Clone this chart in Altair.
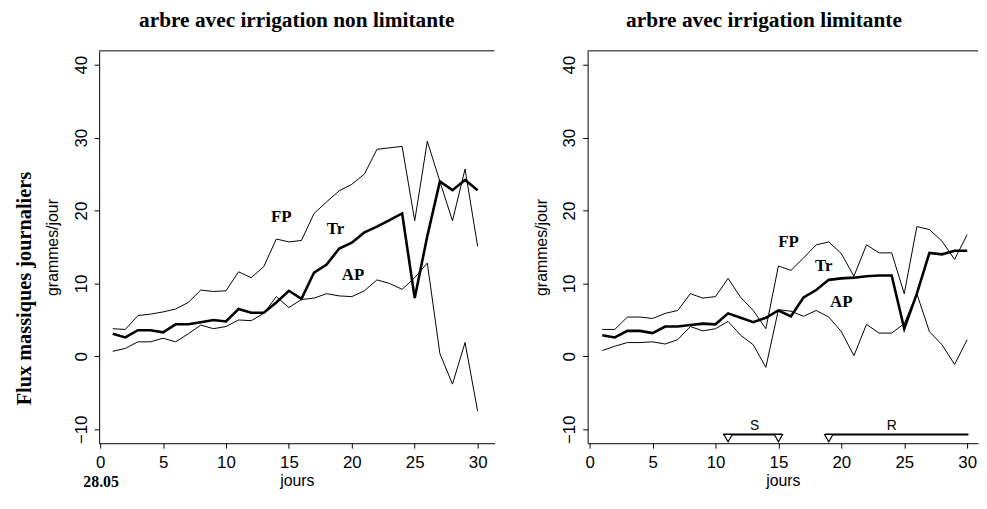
import altair as alt
import pandas as pd

days = list(range(1, 31))

# arbre avec irrigation non limitante
left_fp = [3.8, 3.7, 5.6, 5.8, 6.1, 6.5, 7.4, 9.1, 8.9, 9.0, 11.6, 10.8, 12.3, 16.1, 15.7,
           15.9, 19.6, 21.2, 22.7, 23.6, 25.0, 28.4, 28.6, 28.8, 18.6, 29.5, 24.0, 18.6, 25.7, 15.1]
left_tr = [3.1, 2.6, 3.6, 3.6, 3.3, 4.4, 4.4, 4.7, 5.0, 4.8, 6.5, 6.0, 6.0, 7.4, 9.0,
           7.9, 11.5, 12.6, 14.8, 15.6, 17.0, 17.8, 18.7, 19.6, 8.0, 16.5, 24.0, 22.8, 24.2, 22.8]
left_ap = [0.7, 1.1, 2.0, 2.0, 2.5, 2.0, 3.1, 4.3, 3.8, 4.1, 5.0, 4.9, 5.9, 8.2, 6.7,
           7.8, 8.0, 8.6, 8.3, 8.2, 9.0, 10.5, 10.0, 9.2, 10.8, 12.8, 0.4, -3.8, 1.9, -7.5]

# arbre avec irrigation limitante
right_fp = [3.7, 3.7, 5.4, 5.4, 5.2, 5.9, 6.3, 8.6, 8.0, 8.2, 10.7, 8.1, 6.3, 3.8, 12.4,
            11.8, 13.5, 15.3, 15.7, 14.1, 11.0, 15.3, 14.2, 14.2, 8.6, 17.8, 17.4, 15.8, 13.3, 16.7]
right_tr = [2.9, 2.6, 3.5, 3.5, 3.2, 4.1, 4.1, 4.3, 4.5, 4.4, 5.9, 5.3, 4.7, 5.3, 6.3,
            5.5, 8.1, 9.1, 10.5, 10.7, 10.8, 11.0, 11.1, 11.1, 3.8, 8.6, 14.2, 14.0, 14.5, 14.5]
right_ap = [0.8, 1.4, 1.9, 1.9, 2.0, 1.7, 2.3, 4.1, 3.5, 3.8, 4.8, 2.9, 1.6, -1.5, 6.4,
            6.2, 5.5, 6.3, 5.4, 3.4, 0.1, 4.4, 3.2, 3.2, 4.5, 8.6, 3.4, 1.6, -1.1, 2.3]

label_text = ["FP", "Tr", "AP"]
left_label_day = [14.4, 18.7, 20.1]
left_label_val = [19.1, 17.4, 11.1]
right_label_day = [15.8, 18.6, 20.0]
right_label_val = [15.7, 12.4, 7.4]

# periods S and R (right panel)
period_name = ["S", "R"]
period_start = [10.6, 18.7]
period_end = [15.3, 30.1]
period_level = [-10.7, -10.7]
period_text_day = [13.1, 24.0]
period_text_val = [-9.6, -9.6]
marker_day = [11.0, 15.0, 19.0]
marker_val = [-11.2, -11.2, -11.2]

x_ticks = [0, 5, 10, 15, 20, 25, 30]
y_ticks = [-10, 0, 10, 20, 30, 40]

SERIF = "Liberation Serif"
SANS = "Liberation Sans"
H = 396
Y_SCALE = alt.Scale(domain=[-11.9, 41.9], nice=False, zero=False)


def x_axis():
    return alt.Axis(values=x_ticks, format="d", tickSize=5, labelFontSize=17, labelFont=SANS,
                    labelPadding=7, labelColor="black", tickColor="black", domainColor="black",
                    grid=False, title="jours", titleFont=SANS, titleFontSize=16,
                    titleFontWeight="normal", titleColor="black", titlePadding=2,
                    labelFlush=False)


def y_axis():
    return alt.Axis(values=y_ticks, format="d", tickSize=5, labelFontSize=17, labelFont=SANS,
                    labelAngle=270, labelAlign="center", labelBaseline="bottom", labelPadding=4,
                    labelColor="black", tickColor="black", domainColor="black", grid=False,
                    title="grammes/jour", titleFont=SANS, titleFontSize=16,
                    titleFontWeight="normal", titleColor="black", titlePadding=12,
                    labelFlush=False)


def panel(fp, tr, ap, x_domain, width, title, lab_day, lab_val, left, title_dx):
    xs = alt.Scale(domain=x_domain, nice=False, zero=False)
    thin = pd.DataFrame({"jour": days * 2, "valeur": fp + ap, "serie": ["FP"] * 30 + ["AP"] * 30})
    thick = pd.DataFrame({"jour": days, "valeur": tr})
    labs = pd.DataFrame({"jour": lab_day, "valeur": lab_val, "t": label_text})

    base_thin = alt.Chart(thin).mark_line(color="black", strokeWidth=1).encode(
        x=alt.X("jour:Q", scale=xs, axis=x_axis()),
        y=alt.Y("valeur:Q", scale=Y_SCALE, axis=y_axis()),
        detail="serie:N",
    )
    base_thick = alt.Chart(thick).mark_line(color="black", strokeWidth=2.6).encode(
        x=alt.X("jour:Q", scale=xs),
        y=alt.Y("valeur:Q", scale=Y_SCALE),
    )
    txt = alt.Chart(labs).mark_text(font=SERIF, fontSize=17, fontWeight="bold", color="black").encode(
        x=alt.X("jour:Q", scale=xs),
        y=alt.Y("valeur:Q", scale=Y_SCALE),
        text="t:N",
    )
    top = alt.Chart(pd.DataFrame({"a": [0]})).mark_rule(color="black", strokeWidth=1).encode(
        x=alt.value(0), x2=alt.value(width), y=alt.value(0)
    )
    layers = [top, base_thin, base_thick, txt]
    if left:
        extra = pd.DataFrame({"t": ["Flux massiques journaliers"]})
        layers.append(alt.Chart(extra).mark_text(font=SERIF, fontSize=20.5, fontWeight="bold",
                                                 color="black", angle=270, align="center",
                                                 baseline="middle").encode(
            x=alt.value(-75), y=alt.value(240), text="t:N"))
        date = pd.DataFrame({"t": ["28.05"]})
        layers.append(alt.Chart(date).mark_text(font=SERIF, fontSize=16, fontWeight="bold",
                                                color="black", align="center",
                                                baseline="middle").encode(
            x=alt.value(2), y=alt.value(435), text="t:N"))
    else:
        per = pd.DataFrame({"s": period_start, "e": period_end, "v": period_level})
        layers.append(alt.Chart(per).mark_rule(color="black", strokeWidth=2).encode(
            x=alt.X("s:Q", scale=xs), x2="e:Q", y=alt.Y("v:Q", scale=Y_SCALE)))
        mk = pd.DataFrame({"d": marker_day, "v": marker_val})
        layers.append(alt.Chart(mk).mark_point(shape="triangle-down", filled=True, fill="white",
                                               stroke="black", strokeWidth=1.2, size=70,
                                               opacity=1).encode(
            x=alt.X("d:Q", scale=xs), y=alt.Y("v:Q", scale=Y_SCALE)))
        pt = pd.DataFrame({"d": period_text_day, "v": period_text_val, "t": period_name})
        layers.append(alt.Chart(pt).mark_text(font=SANS, fontSize=14, color="black",
                                              baseline="middle").encode(
            x=alt.X("d:Q", scale=xs), y=alt.Y("v:Q", scale=Y_SCALE), text="t:N"))
    return alt.layer(*layers).properties(
        width=width, height=H,
        title=alt.TitleParams(title, font=SERIF, fontSize=21.5, fontWeight="bold", color="black",
                              anchor="middle", offset=19, dx=title_dx),
    )


left_chart = panel(left_fp, left_tr, left_ap, [-0.08, 31.34], 399,
                   "arbre avec irrigation non limitante", left_label_day, left_label_val, True, 0)
right_chart = panel(right_fp, right_tr, right_ap, [-0.16, 30.86], 394,
                    "arbre avec irrigation limitante", right_label_day, right_label_val, False, -19)

chart = alt.hconcat(left_chart, right_chart, spacing=38).properties(
    padding={"left": 7, "top": 0, "right": 0, "bottom": 0},
    background="white",
).configure_view(stroke=None)

chart.save("out.html", embed_options={"renderer": "svg", "actions": False})
